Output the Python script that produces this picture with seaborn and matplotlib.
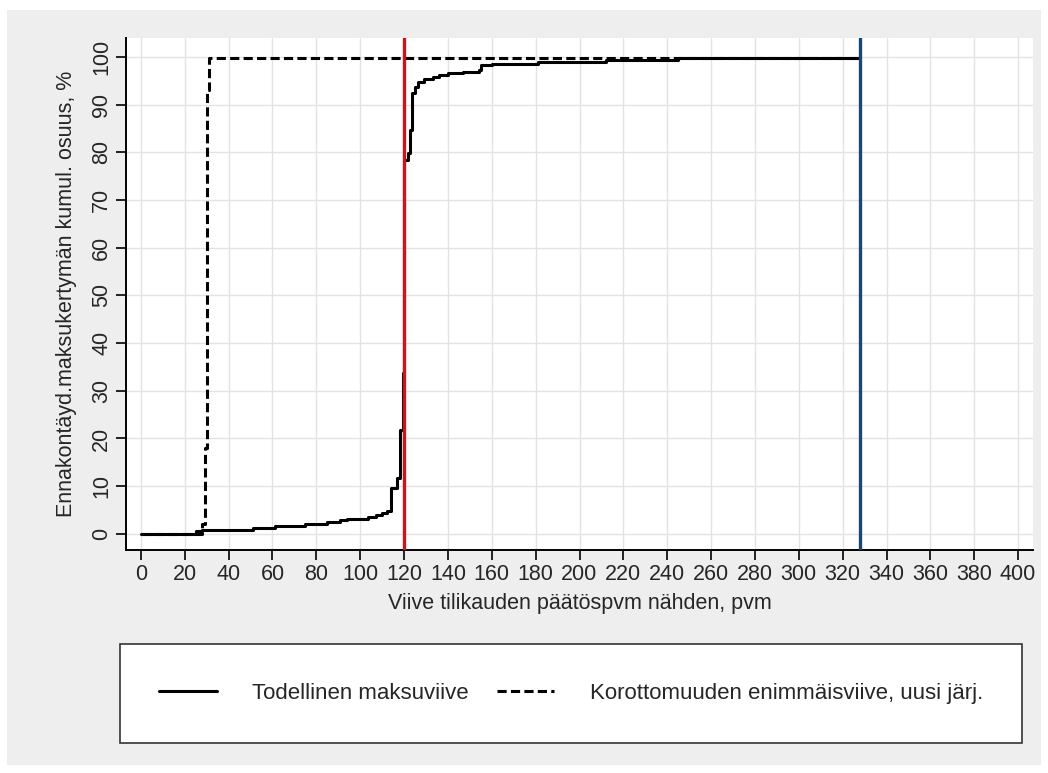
import pandas as pd
import seaborn as sns
import matplotlib.pyplot as plt
from matplotlib.patches import Rectangle

# kertymäfunktiot luettu kuvasta (viive päivinä, kumul. osuus %)
actual_days = [0, 25, 28, 42, 51, 61, 75, 85, 91, 94, 103.5, 107, 110, 112, 114, 117,
               118, 119.5, 120, 121.8, 122.7, 123.6, 125, 126.4, 129, 133, 136, 140, 147,
               154, 155, 160, 181, 212, 245, 328]
actual_share = [0, 0.6, 0.7, 0.8, 1.3, 1.7, 2.1, 2.5, 2.9, 3.1, 3.6, 4.0, 4.4, 4.8, 9.6, 11.7,
                21.8, 33.8, 78.4, 79.9, 84.7, 92.5, 93.8, 94.8, 95.3, 95.8, 96.2, 96.6, 96.9,
                97.3, 98.3, 98.5, 99.0, 99.4, 99.7, 99.7]
limit_days = [0, 28, 29, 30, 31, 328]
limit_share = [0, 2, 18, 93, 99.8, 99.8]

label_actual = 'Todellinen maksuviive'
label_limit = 'Korottomuuden enimmäisviive, uusi järj.'
vlines = [(120, '#c8161d'), (328, '#1a476f')]

df = pd.concat([
    pd.DataFrame({'viive': actual_days, 'osuus': actual_share, 'sarja': label_actual}),
    pd.DataFrame({'viive': limit_days, 'osuus': limit_share, 'sarja': label_limit}),
])

sns.set_style('white')
plt.rcParams['font.family'] = ['Liberation Sans', 'DejaVu Sans']

fig = plt.figure(figsize=(10.48, 7.73), dpi=100, facecolor='white')
W, H = 1048, 773
fig.add_artist(Rectangle((7 / W, 1 - 765 / H), 1034 / W, 755 / H, transform=fig.transFigure,
                         facecolor='#eeeeee', edgecolor='none', zorder=-10))
ax = fig.add_axes([126 / W, 1 - 550 / H, (1033 - 126) / W, (550 - 38) / H])
ax.set_facecolor('white')

sns.lineplot(data=df, x='viive', y='osuus', hue='sarja', style='sarja',
             palette=['black', 'black'], dashes={label_actual: '', label_limit: (3, 1.4)},
             estimator=None, drawstyle='steps-post', linewidth=2.2, ax=ax, zorder=3)
for x, col in vlines:
    ax.axvline(x, color=col, linewidth=2.4, zorder=4)

handles, labels = ax.get_legend_handles_labels()
keep = [(h, l) for h, l in zip(handles, labels) if l in (label_actual, label_limit)]
ax.get_legend().remove()

ax.set_xlim(-6.8, 406.8)
ax.set_ylim(-3.4, 104)
ax.set_xticks(range(0, 401, 20))
ax.set_yticks(range(0, 101, 10))
ax.grid(True, color='#e3e3e3', linewidth=1.0)
ax.set_axisbelow(True)
for side in ['top', 'right']:
    ax.spines[side].set_visible(False)
for side in ['left', 'bottom']:
    ax.spines[side].set_color('black')
    ax.spines[side].set_linewidth(1.4)
ax.tick_params(axis='both', direction='out', length=7, width=1.2, color='black',
               labelsize=15.5, pad=3, left=True, bottom=True)
for lab in ax.get_yticklabels():
    lab.set_rotation(90)
    lab.set_va('center')
ax.set_xlabel('Viive tilikauden päätöspvm nähden, pvm', fontsize=15.5, labelpad=6)
ax.set_ylabel('Ennakontäyd.maksukertymän kumul. osuus, %', fontsize=15.5, labelpad=10)

leg = fig.legend([h for h, l in keep], [l for h, l in keep], ncol=2, mode='expand',
                 loc='center', bbox_to_anchor=(120 / W, 1 - 742 / H, 902 / W, 97 / H),
                 fontsize=16, frameon=True, fancybox=False, borderpad=1.75,
                 handlelength=2.6, handletextpad=1.6, borderaxespad=0)
leg.get_frame().set_edgecolor('#333333')
leg.get_frame().set_facecolor('white')
leg.get_frame().set_alpha(1)
leg.get_frame().set_linewidth(1.2)

fig.savefig('out.png', dpi=100, facecolor='white')
